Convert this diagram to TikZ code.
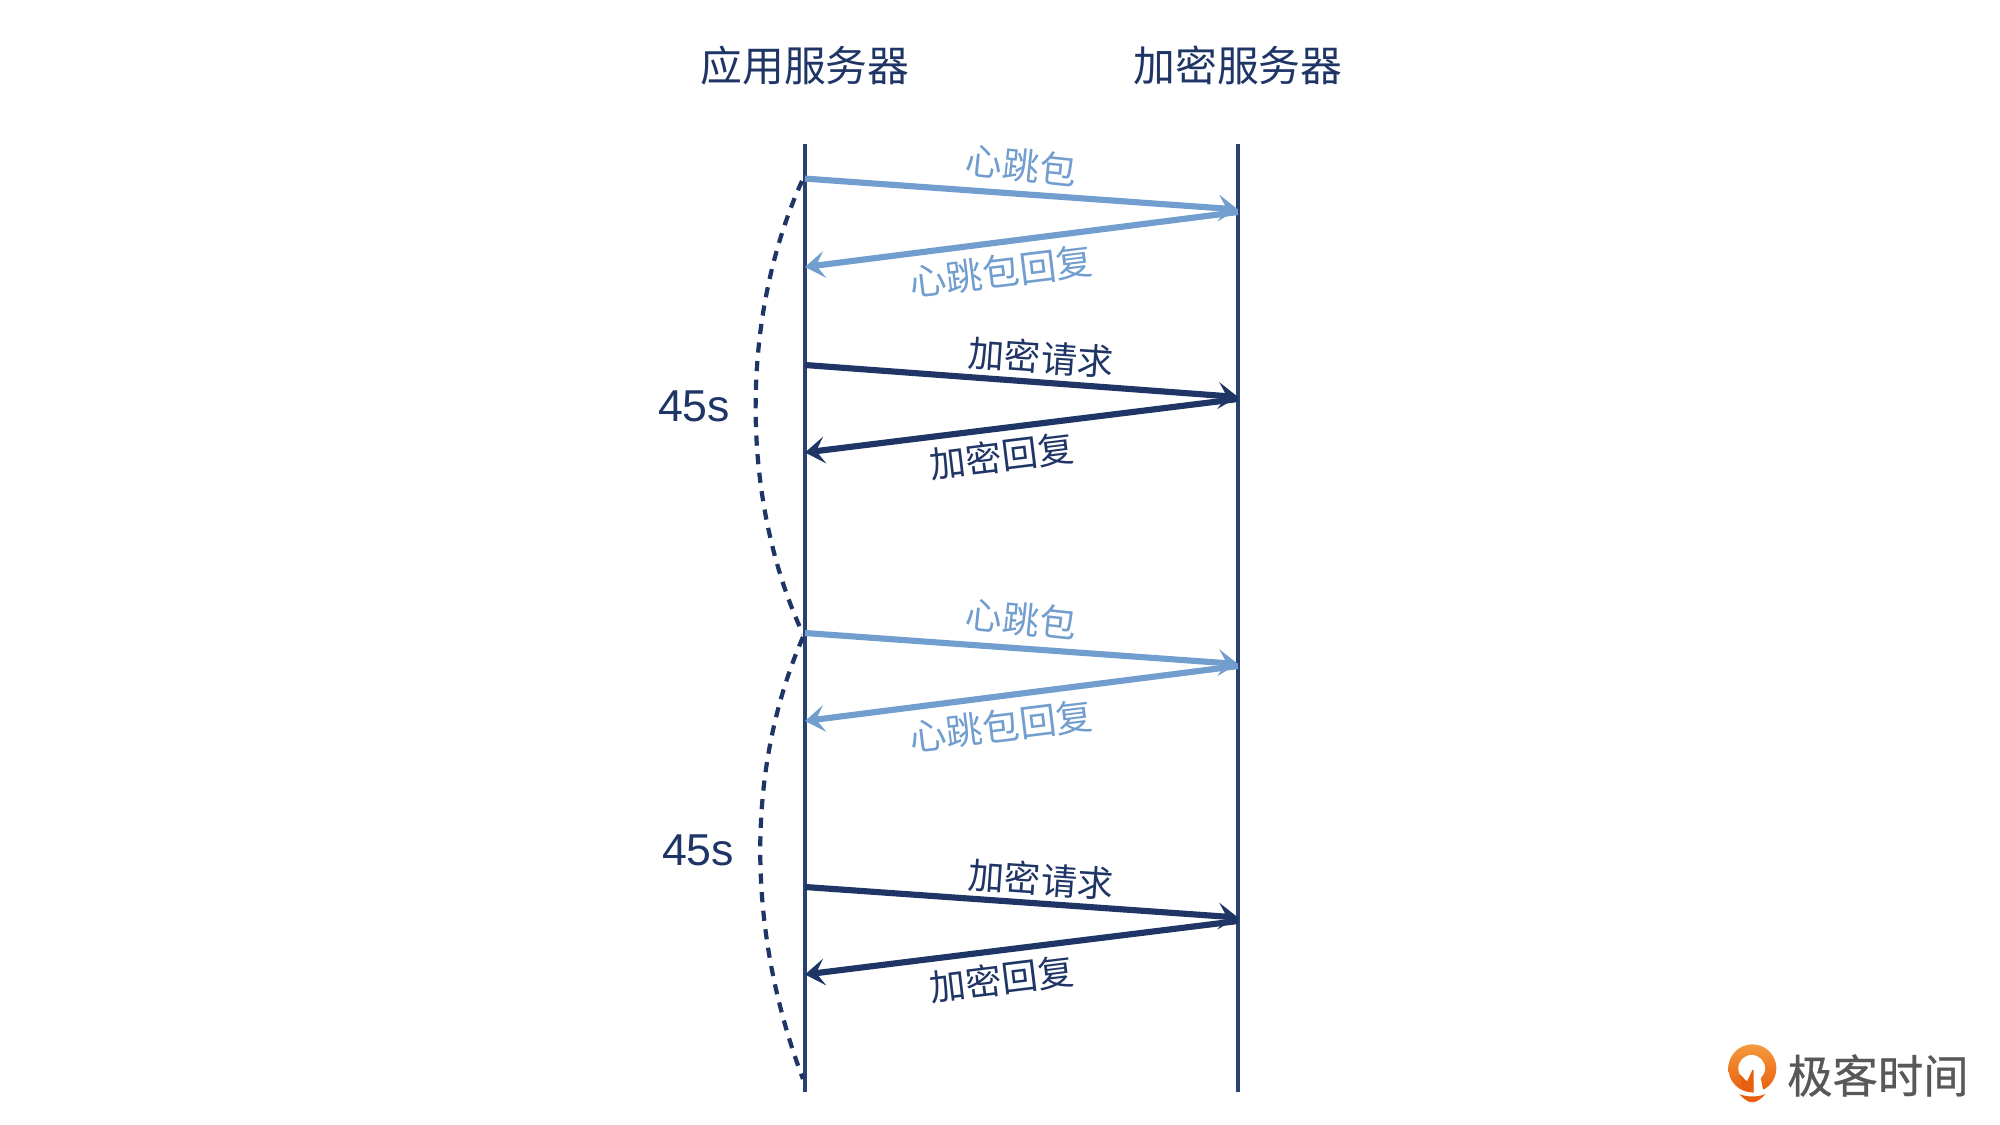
\documentclass[tikz,border=0pt]{standalone}
\usepackage{fontspec}
\setmainfont{Liberation Sans}
\newfontfamily\cjk{Noto Sans CJK SC}
\newfontfamily\brandf[FakeBold=0.6]{Noto Sans CJK SC}
\usetikzlibrary{arrows.meta,calc}
\definecolor{navy}{HTML}{1F3566}
\definecolor{lifec}{HTML}{2A4272}
\definecolor{lightb}{HTML}{729ECF}
\definecolor{logotxt}{HTML}{5A5758}
\definecolor{logotop}{HTML}{F59A3C}
\definecolor{logobot}{HTML}{E85F10}
\tikzset{
 x=0.01cm,y=-0.01cm,
 life/.style={draw=lifec,line width=1.25pt},
 msg/.style={line width=1.75pt,-{Stealth[length=5.6pt,width=7.6pt,inset=2.4pt]}},
 hb/.style={msg,draw=lightb,fill=lightb},
 enc/.style={msg,draw=navy,fill=navy},
 hbl/.style={text=lightb,font=\cjk\fontsize{10.5pt}{10.5pt}\selectfont,inner sep=0pt},
 encl/.style={text=navy,font=\cjk\fontsize{10.3pt}{10.3pt}\selectfont,inner sep=0pt},
 title/.style={text=navy,font=\cjk\fontsize{11.9pt}{11.9pt}\selectfont,inner sep=0pt},
 secs/.style={text=navy,font=\fontsize{12.7pt}{12.7pt}\selectfont,inner sep=0pt},
 span/.style={draw=navy,line width=1.2pt,dash pattern=on 2.9pt off 2.4pt}
}
\begin{document}
\begin{tikzpicture}
\useasboundingbox (0,0) rectangle (2000,1125);
\node[title] (t1) at (805,66) {应用服务器};
\node[title] (t2) at (1238,65.5) {加密服务器};
\coordinate (a0) at (805,144); \coordinate (a1) at (805,1092);
\coordinate (b0) at (1238,144); \coordinate (b1) at (1238,1092);
\draw[life] (a0)--(a1);
\draw[life] (b0)--(b1);
\foreach \n/\y in {p1/178.6,p2/267,p3/365,p4/452.5,p5/633,p6/721,p7/887,p8/974.5}{\coordinate (\n) at (805,\y);}
\foreach \n/\y in {q1/209.5,q2/212,q3/397,q4/399,q5/664,q6/666,q7/917.5,q8/921}{\coordinate (\n) at (1238,\y);}
\draw[hb] (p1)--(q1);
\draw[hb] (q2)--(p2);
\draw[enc] (p3)--(q3);
\draw[enc] (q4)--(p4);
\draw[hb] (p5)--(q5);
\draw[hb] (q6)--(p6);
\draw[enc] (p7)--(q7);
\draw[enc] (q8)--(p8);
\node[hbl,rotate=-6] (l1) at (1021.5,165.5) {心跳包};
\node[hbl,rotate=7] (l2) at (1001,271.5) {心跳包回复};
\node[encl,rotate=-4] (l3) at (1041,357.5) {加密请求};
\node[encl,rotate=7] (l4) at (1002,456) {加密回复};
\node[hbl,rotate=-6] (l5) at (1021.5,619) {心跳包};
\node[hbl,rotate=7] (l6) at (1001,726) {心跳包回复};
\node[encl,rotate=-4] (l7) at (1041,879.5) {加密请求};
\node[encl,rotate=7] (l8) at (1002,979) {加密回复};
\coordinate (c0) at (802,181);\coordinate (c1) at (803,634);
\coordinate (c2) at (803,637);\coordinate (c3) at (803,1079);
\draw[span] (c0) .. controls (740,318) and (740,498) .. (c1);
\draw[span] (c2) .. controls (746,768) and (746,928) .. (c3);
\node[secs] (s1) at (694,406.5) {45s};
\node[secs] (s2) at (698,850.5) {45s};
% logo
\begin{scope}[shift={(1719,1040)},scale=0.3333]
\shade[top color=logotop,bottom color=logobot] (100,85) circle (72);
\fill[white] (98,85) circle (40);
\fill[white] (103,90) -- (103,165) -- (135,165) -- (125,115) -- (130,90) -- cycle;
\fill[logobot] (100,90) -- (104,90) -- (104,158) -- (72,150) -- (62,102) -- (84,125) -- cycle;
\fill[logobot] (60,162) .. controls (85,172) and (115,172) .. (140,162) .. controls (125,178) and (112,187) .. (100,187) .. controls (88,187) and (75,178) .. (60,162) -- cycle;
\end{scope}
\node[inner sep=0pt,anchor=west,text=logotxt,font=\brandf\fontsize{12.9pt}{12.9pt}\selectfont] (brand) at (1786.5,1075.5) {极客时间};
\end{tikzpicture}
\end{document}
